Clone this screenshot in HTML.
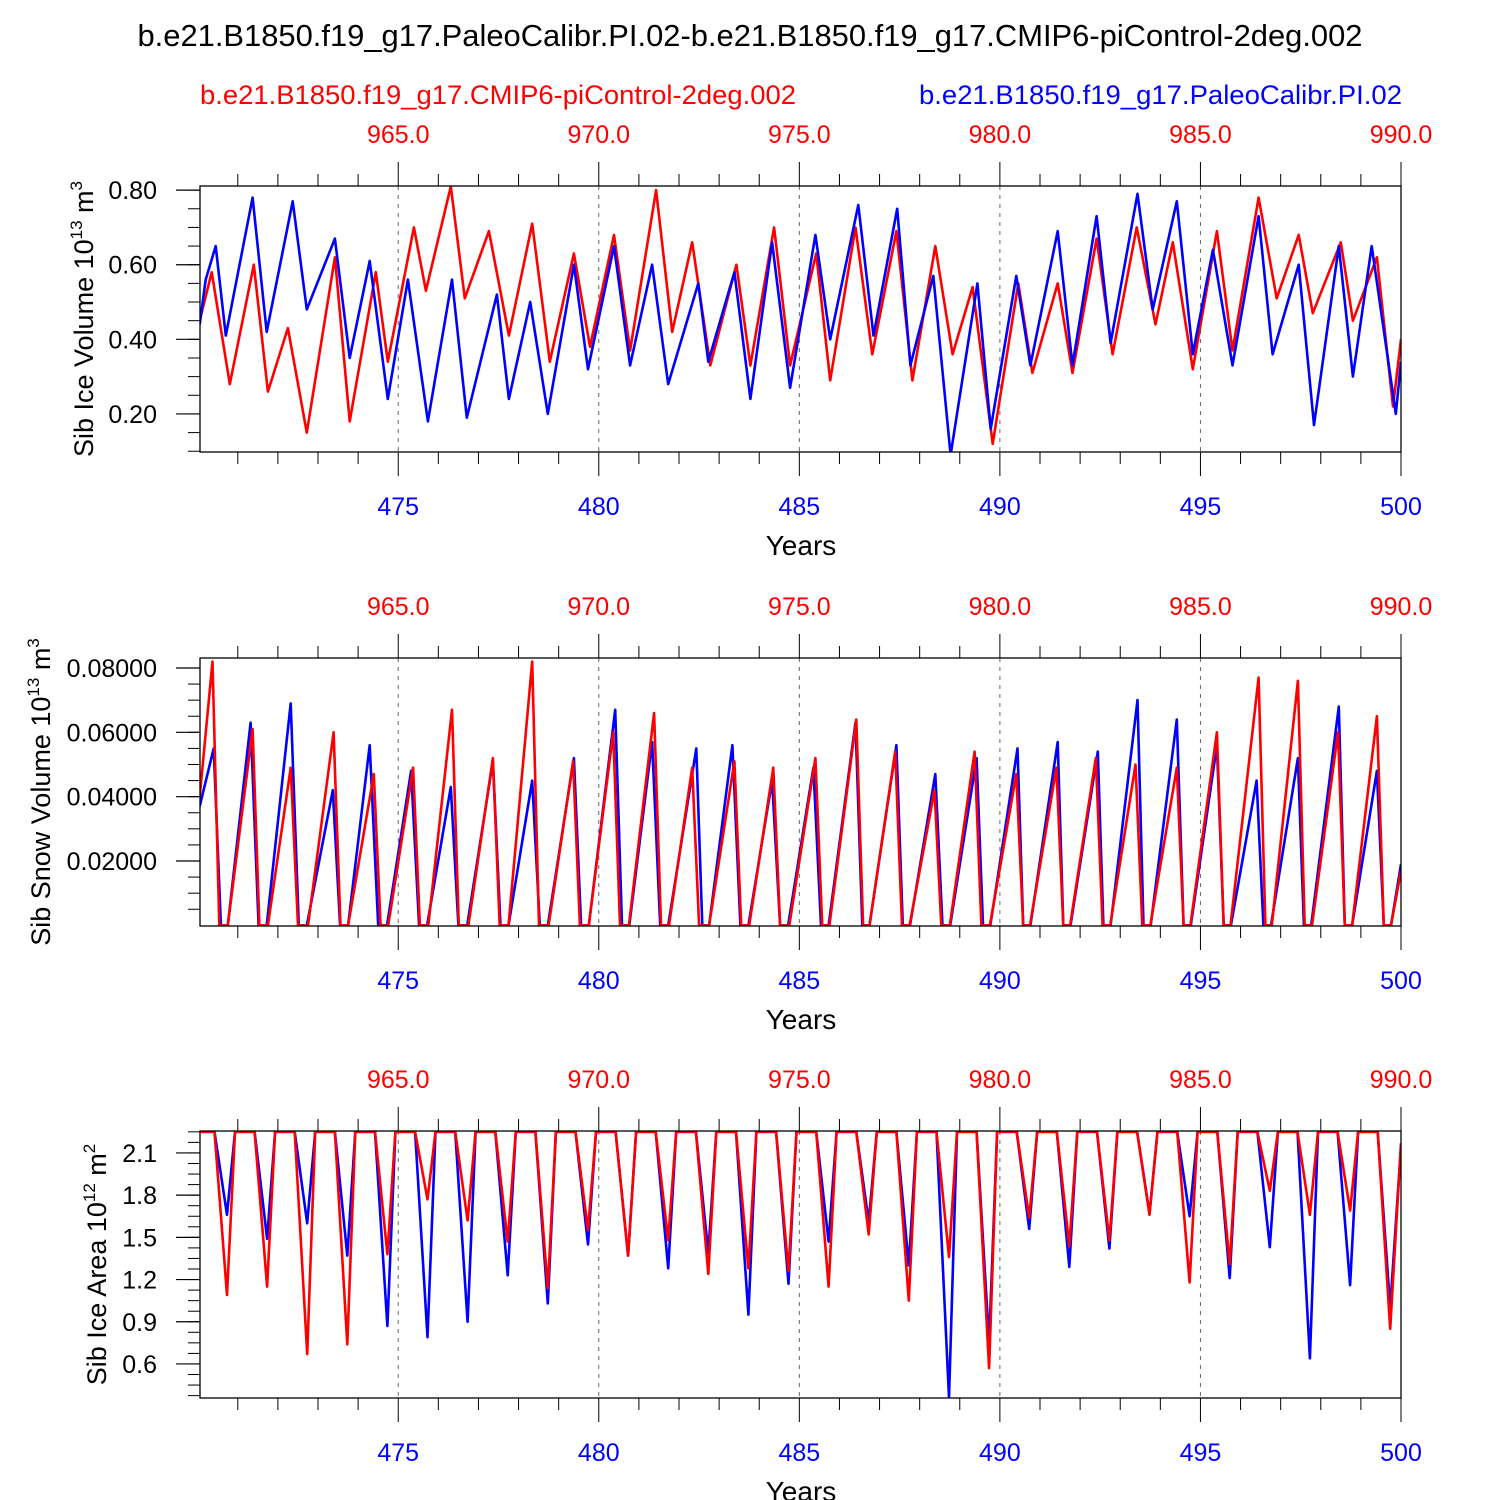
<!DOCTYPE html>
<html><head><meta charset="utf-8"><style>
html,body{margin:0;padding:0;background:#fff;}
svg{display:block;font-family:"Liberation Sans",Arial,sans-serif;}
</style></head><body>
<svg id="chart" width="1500" height="1500" viewBox="0 0 1500 1500" xmlns="http://www.w3.org/2000/svg">
<text x="750" y="46" text-anchor="middle" font-size="31" textLength="1225" lengthAdjust="spacingAndGlyphs">b.e21.B1850.f19_g17.PaleoCalibr.PI.02-b.e21.B1850.f19_g17.CMIP6-piControl-2deg.002</text>
<text x="200" y="104" font-size="27" fill="#ff0000" textLength="596" lengthAdjust="spacingAndGlyphs">b.e21.B1850.f19_g17.CMIP6-piControl-2deg.002</text>
<text x="919" y="104" font-size="27" fill="#0000ff" textLength="483" lengthAdjust="spacingAndGlyphs">b.e21.B1850.f19_g17.PaleoCalibr.PI.02</text>
<g id="panels"></g>
</svg>
<script>
// ---- data ----
const volBlueT=[470.05,470.20,470.45,470.70,471.37,471.72,472.37,472.72,473.42,473.79,474.29,474.74,475.24,475.74,476.34,476.71,477.46,477.76,478.29,478.73,479.38,479.73,480.38,480.78,481.33,481.73,482.48,482.73,483.38,483.78,484.32,484.77,485.40,485.77,486.47,486.85,487.44,487.77,488.34,488.77,489.44,489.77,490.41,490.76,491.44,491.81,492.41,492.76,493.43,493.81,494.41,494.81,495.31,495.80,496.45,496.80,497.45,497.83,498.45,498.80,499.27,499.87,500.0];
const volBlueV=[0.44,0.56,0.65,0.41,0.78,0.42,0.77,0.48,0.67,0.35,0.61,0.24,0.56,0.18,0.56,0.19,0.52,0.24,0.50,0.20,0.60,0.32,0.65,0.33,0.60,0.28,0.55,0.34,0.58,0.24,0.66,0.27,0.68,0.40,0.76,0.41,0.75,0.33,0.57,0.09,0.55,0.16,0.57,0.33,0.69,0.33,0.73,0.39,0.79,0.48,0.77,0.36,0.64,0.33,0.73,0.36,0.60,0.17,0.65,0.30,0.65,0.20,0.34];
const volRedT=[470.05,470.35,470.80,471.40,471.75,472.25,472.72,473.42,473.79,474.44,474.74,475.39,475.69,476.31,476.66,477.26,477.76,478.34,478.78,479.38,479.78,480.38,480.78,481.43,481.83,482.33,482.78,483.43,483.78,484.37,484.77,485.42,485.77,486.40,486.82,487.42,487.82,488.39,488.82,489.32,489.82,490.46,490.81,491.44,491.81,492.41,492.81,493.41,493.88,494.31,494.81,495.41,495.80,496.45,496.90,497.45,497.80,498.50,498.80,499.40,499.80,500.0];
const volRedV=[0.45,0.58,0.28,0.60,0.26,0.43,0.15,0.62,0.18,0.58,0.34,0.70,0.53,0.81,0.51,0.69,0.41,0.71,0.34,0.63,0.38,0.68,0.37,0.80,0.42,0.66,0.33,0.60,0.33,0.70,0.33,0.63,0.29,0.70,0.36,0.69,0.29,0.65,0.36,0.54,0.12,0.55,0.31,0.55,0.31,0.67,0.36,0.70,0.44,0.66,0.32,0.69,0.37,0.78,0.51,0.68,0.47,0.66,0.45,0.62,0.22,0.40];

const snowBlueT=[470.05,470.40,470.58,470.75,471.32,471.52,471.72,472.32,472.52,472.72,473.37,473.55,473.75,474.29,474.50,474.72,475.32,475.52,475.72,476.31,476.50,476.72,477.36,477.55,477.75,478.34,478.53,478.73,479.38,479.56,479.75,480.41,480.58,480.76,481.33,481.53,481.73,482.43,482.58,482.75,483.33,483.53,483.73,484.32,484.52,484.72,485.35,485.54,485.73,486.40,486.57,486.75,487.42,487.58,487.76,488.39,488.57,488.76,489.42,489.58,489.76,490.44,490.58,490.76,491.44,491.58,491.76,492.44,492.58,492.76,493.43,493.58,493.76,494.41,494.58,494.76,495.41,495.58,495.76,496.40,496.57,496.76,497.43,497.58,497.76,498.45,498.60,498.78,499.40,499.57,499.75,500.0];
const snowBlueV=[0.037,0.055,0,0,0.063,0,0,0.069,0,0,0.042,0,0,0.056,0,0,0.048,0,0,0.043,0,0,0.051,0,0,0.045,0,0,0.052,0,0,0.067,0,0,0.057,0,0,0.055,0,0,0.056,0,0,0.045,0,0,0.049,0,0,0.063,0,0,0.056,0,0,0.047,0,0,0.052,0,0,0.055,0,0,0.057,0,0,0.054,0,0,0.070,0,0,0.064,0,0,0.056,0,0,0.045,0,0,0.052,0,0,0.068,0,0,0.048,0,0,0.019];
const snowRedT=[470.05,470.37,470.54,470.75,471.37,471.54,471.75,472.32,472.50,472.75,473.39,473.56,473.75,474.39,474.56,474.75,475.37,475.54,475.75,476.34,476.51,476.75,477.36,477.53,477.75,478.34,478.51,478.75,479.36,479.53,479.75,480.36,480.53,480.75,481.38,481.55,481.75,482.33,482.50,482.75,483.38,483.55,483.75,484.35,484.52,484.75,485.40,485.57,485.75,486.42,486.59,486.75,487.39,487.56,487.75,488.37,488.54,488.75,489.37,489.54,489.75,490.41,490.58,490.75,491.41,491.58,491.75,492.39,492.56,492.75,493.38,493.55,493.75,494.41,494.58,494.75,495.41,495.58,495.75,496.45,496.62,496.78,497.43,497.60,497.78,498.43,498.60,498.78,499.40,499.57,499.75,500.0];
const snowRedV=[0.040,0.082,0,0,0.061,0,0,0.049,0,0,0.060,0,0,0.047,0,0,0.049,0,0,0.067,0,0,0.052,0,0,0.082,0,0,0.051,0,0,0.060,0,0,0.066,0,0,0.049,0,0,0.051,0,0,0.049,0,0,0.052,0,0,0.064,0,0,0.054,0,0,0.042,0,0,0.054,0,0,0.047,0,0,0.049,0,0,0.052,0,0,0.050,0,0,0.049,0,0,0.060,0,0,0.077,0,0,0.076,0,0,0.060,0,0,0.065,0,0,0.017];

const areaT=[470.05,470.42,470.73,470.93,471.42,471.73,471.93,472.42,472.73,472.93,473.42,473.73,473.93,474.42,474.73,474.93,475.42,475.73,475.93,476.42,476.73,476.93,477.42,477.73,477.93,478.42,478.73,478.93,479.42,479.73,479.93,480.42,480.73,480.93,481.42,481.73,481.93,482.42,482.73,482.93,483.42,483.73,483.93,484.42,484.73,484.93,485.42,485.73,485.93,486.42,486.73,486.93,487.42,487.73,487.93,488.42,488.73,488.93,489.42,489.73,489.93,490.42,490.73,490.93,491.42,491.73,491.93,492.42,492.73,492.93,493.42,493.73,493.93,494.42,494.73,494.93,495.42,495.73,495.93,496.42,496.73,496.93,497.42,497.73,497.93,498.42,498.73,498.93,499.42,499.73,500.0];
const areaBlueV=[2.25,2.25,1.66,2.25,2.25,1.49,2.25,2.25,1.60,2.25,2.25,1.37,2.25,2.25,0.87,2.25,2.25,0.79,2.25,2.25,0.90,2.25,2.25,1.23,2.25,2.25,1.03,2.25,2.25,1.45,2.25,2.25,1.37,2.25,2.25,1.28,2.25,2.25,1.39,2.25,2.25,0.95,2.25,2.25,1.17,2.25,2.25,1.47,2.25,2.25,1.61,2.25,2.25,1.30,2.25,2.25,0.36,2.25,2.25,0.75,2.25,2.25,1.56,2.25,2.25,1.29,2.25,2.25,1.42,2.25,2.25,1.67,2.25,2.25,1.65,2.25,2.25,1.21,2.25,2.25,1.43,2.25,2.25,0.64,2.25,2.25,1.16,2.25,2.25,1.00,2.15];
const areaRedV=[2.25,2.25,1.09,2.25,2.25,1.15,2.25,2.25,0.67,2.25,2.25,0.74,2.25,2.25,1.38,2.25,2.25,1.77,2.25,2.25,1.62,2.25,2.25,1.47,2.25,2.25,1.14,2.25,2.25,1.55,2.25,2.25,1.37,2.25,2.25,1.48,2.25,2.25,1.24,2.25,2.25,1.28,2.25,2.25,1.26,2.25,2.25,1.15,2.25,2.25,1.52,2.25,2.25,1.05,2.25,2.25,1.36,2.25,2.25,0.57,2.25,2.25,1.64,2.25,2.25,1.44,2.25,2.25,1.48,2.25,2.25,1.66,2.25,2.25,1.18,2.25,2.25,1.31,2.25,2.25,1.83,2.25,2.25,1.66,2.25,2.25,1.69,2.25,2.25,0.85,2.17];

const bottomTickLabels=["475","480","485","490","495","500"];
const topTickLabels=["965.0","970.0","975.0","980.0","985.0","990.0"];
const volTicks=[0.2,0.4,0.6,0.8];
const volTickLabels=["0.20","0.40","0.60","0.80"];
const snowTicks=[0.02,0.04,0.06,0.08];
const snowTickLabels=["0.02000","0.04000","0.06000","0.08000"];
const areaTicks=[0.6,0.9,1.2,1.5,1.8,2.1];
const areaTickLabels=["0.6","0.9","1.2","1.5","1.8","2.1"];

// ---- drawing ----
const NS="http://www.w3.org/2000/svg";
const root=document.getElementById('panels');
function mk(tag,attrs,parent){const e=document.createElementNS(NS,tag);for(const k in attrs)e.setAttribute(k,attrs[k]);parent.appendChild(e);return e;}
const X0=200,X1=1401,XMIN=470.058,XMAX=500;
function xs(t){return X0+(t-XMIN)/(XMAX-XMIN)*(X1-X0);}

function panel(cfg){
  const g=mk('g',{},root);
  
  
  const ys=v=>cfg.bot-(v-cfg.ymin)/(cfg.ymax-cfg.ymin)*(cfg.bot-cfg.top);
  for(let i=0;i<5;i++){
    const x=xs(475+5*i);
    const l=mk('line',{x1:x,x2:x,y1:cfg.top,y2:cfg.bot,stroke:'#666','stroke-width':1,'stroke-dasharray':'4,5'},g);
    
    
  }
  for(let y=471;y<=500;y++){
    const x=xs(y),maj=(y%5===0);
    const len=maj?24:12;
    mk('line',{x1:x,x2:x,y1:cfg.bot,y2:cfg.bot+len,stroke:'#000','stroke-width':1},g);
    mk('line',{x1:x,x2:x,y1:cfg.top,y2:cfg.top-len,stroke:'#000','stroke-width':1},g);
  }
  bottomTickLabels.forEach((s,i)=>{
    const t=mk('text',{x:xs(475+5*i),y:cfg.bot+63,'text-anchor':'middle','font-size':25,fill:'#0000ff'},g);
    t.textContent=s;
    
    
  });
  topTickLabels.forEach((s,i)=>{
    const t=mk('text',{x:xs(475+5*i),y:cfg.top-43,'text-anchor':'middle','font-size':25,fill:'#ff0000'},g);
    t.textContent=s;
    
    
  });
  const xt=mk('text',{x:801,y:cfg.bot+103,'text-anchor':'middle','font-size':28},g);
  xt.textContent='Years';
  
  
  for(let v=cfg.minorStart;v<=cfg.ymax+1e-9;v+=cfg.minorStep){
    if(v<cfg.ymin-1e-9)continue;
    const y=ys(v);
    mk('line',{x1:X0-12,x2:X0,y1:y,y2:y,stroke:'#000','stroke-width':1},g);
  }
  cfg.ticks.forEach((v,i)=>{
    const y=ys(v);
    mk('line',{x1:X0-24,x2:X0,y1:y,y2:y,stroke:'#000','stroke-width':1.2},g);
    const t=mk('text',{x:X0-43,y:y+9,'text-anchor':'end','font-size':25},g);
    t.textContent=cfg.tickLabels[i];
    
    
  });
  const cy=(cfg.top+cfg.bot)/2;
  const yt=mk('text',{x:cfg.titleX,y:cy,'text-anchor':'middle','font-size':27,transform:`rotate(-90 ${cfg.titleX} ${cy})`},g);
  
  
  yt.appendChild(document.createTextNode(cfg.title+' 10'));
  let s=mk('tspan',{dy:-11,'font-size':17},yt);s.textContent=cfg.exp;
  let u=mk('tspan',{dy:11,'font-size':27},yt);u.textContent=' m';
  let s2=mk('tspan',{dy:-11,'font-size':17},yt);s2.textContent=cfg.uexp;
  const cid='clip-'+cfg.name;
  const cp=mk('clipPath',{id:cid},g);
  mk('rect',{x:X0,y:cfg.top,width:X1-X0,height:cfg.bot-cfg.top},cp);
  cfg.series.forEach(sr=>{
    const pts=sr.t.map((t,i)=>xs(t).toFixed(1)+','+ys(sr.v[i]).toFixed(1)).join(' ');
    const p=mk('polyline',{points:pts,fill:'none',stroke:sr.color,'stroke-width':2.6,'stroke-linejoin':'round','clip-path':`url(#${cid})`},g);
    
    
  });
  const fr=mk('rect',{x:X0,y:cfg.top,width:X1-X0,height:cfg.bot-cfg.top,fill:'none',stroke:'#000','stroke-width':1.3},g);
  
  
}

panel({name:'ice-volume-panel',top:186,bot:452,ymin:0.098,ymax:0.811,ticks:volTicks,tickLabels:volTickLabels,minorStart:0.1,minorStep:0.05,
  title:'Sib Ice Volume',exp:'13',uexp:'3',titleX:93,
  series:[{name:'ice-volume-control-line',t:volRedT,v:volRedV,color:'#ff0000'},{name:'ice-volume-paleo-line',t:volBlueT,v:volBlueV,color:'#0000ff'}]});
panel({name:'snow-volume-panel',top:658,bot:926,ymin:-0.0002,ymax:0.0831,ticks:snowTicks,tickLabels:snowTickLabels,minorStart:0.005,minorStep:0.005,
  title:'Sib Snow Volume',exp:'13',uexp:'3',titleX:50,
  series:[{name:'snow-volume-paleo-line',t:snowBlueT,v:snowBlueV,color:'#0000ff'},{name:'snow-volume-control-line',t:snowRedT,v:snowRedV,color:'#ff0000'}]});
panel({name:'ice-area-panel',top:1131,bot:1398,ymin:0.358,ymax:2.256,ticks:areaTicks,tickLabels:areaTickLabels,minorStart:0.375,minorStep:0.075,
  title:'Sib Ice Area',exp:'12',uexp:'2',titleX:106,
  series:[{name:'ice-area-paleo-line',t:areaT,v:areaBlueV,color:'#0000ff'},{name:'ice-area-control-line',t:areaT,v:areaRedV,color:'#ff0000'}]});
</script>
</body></html>
